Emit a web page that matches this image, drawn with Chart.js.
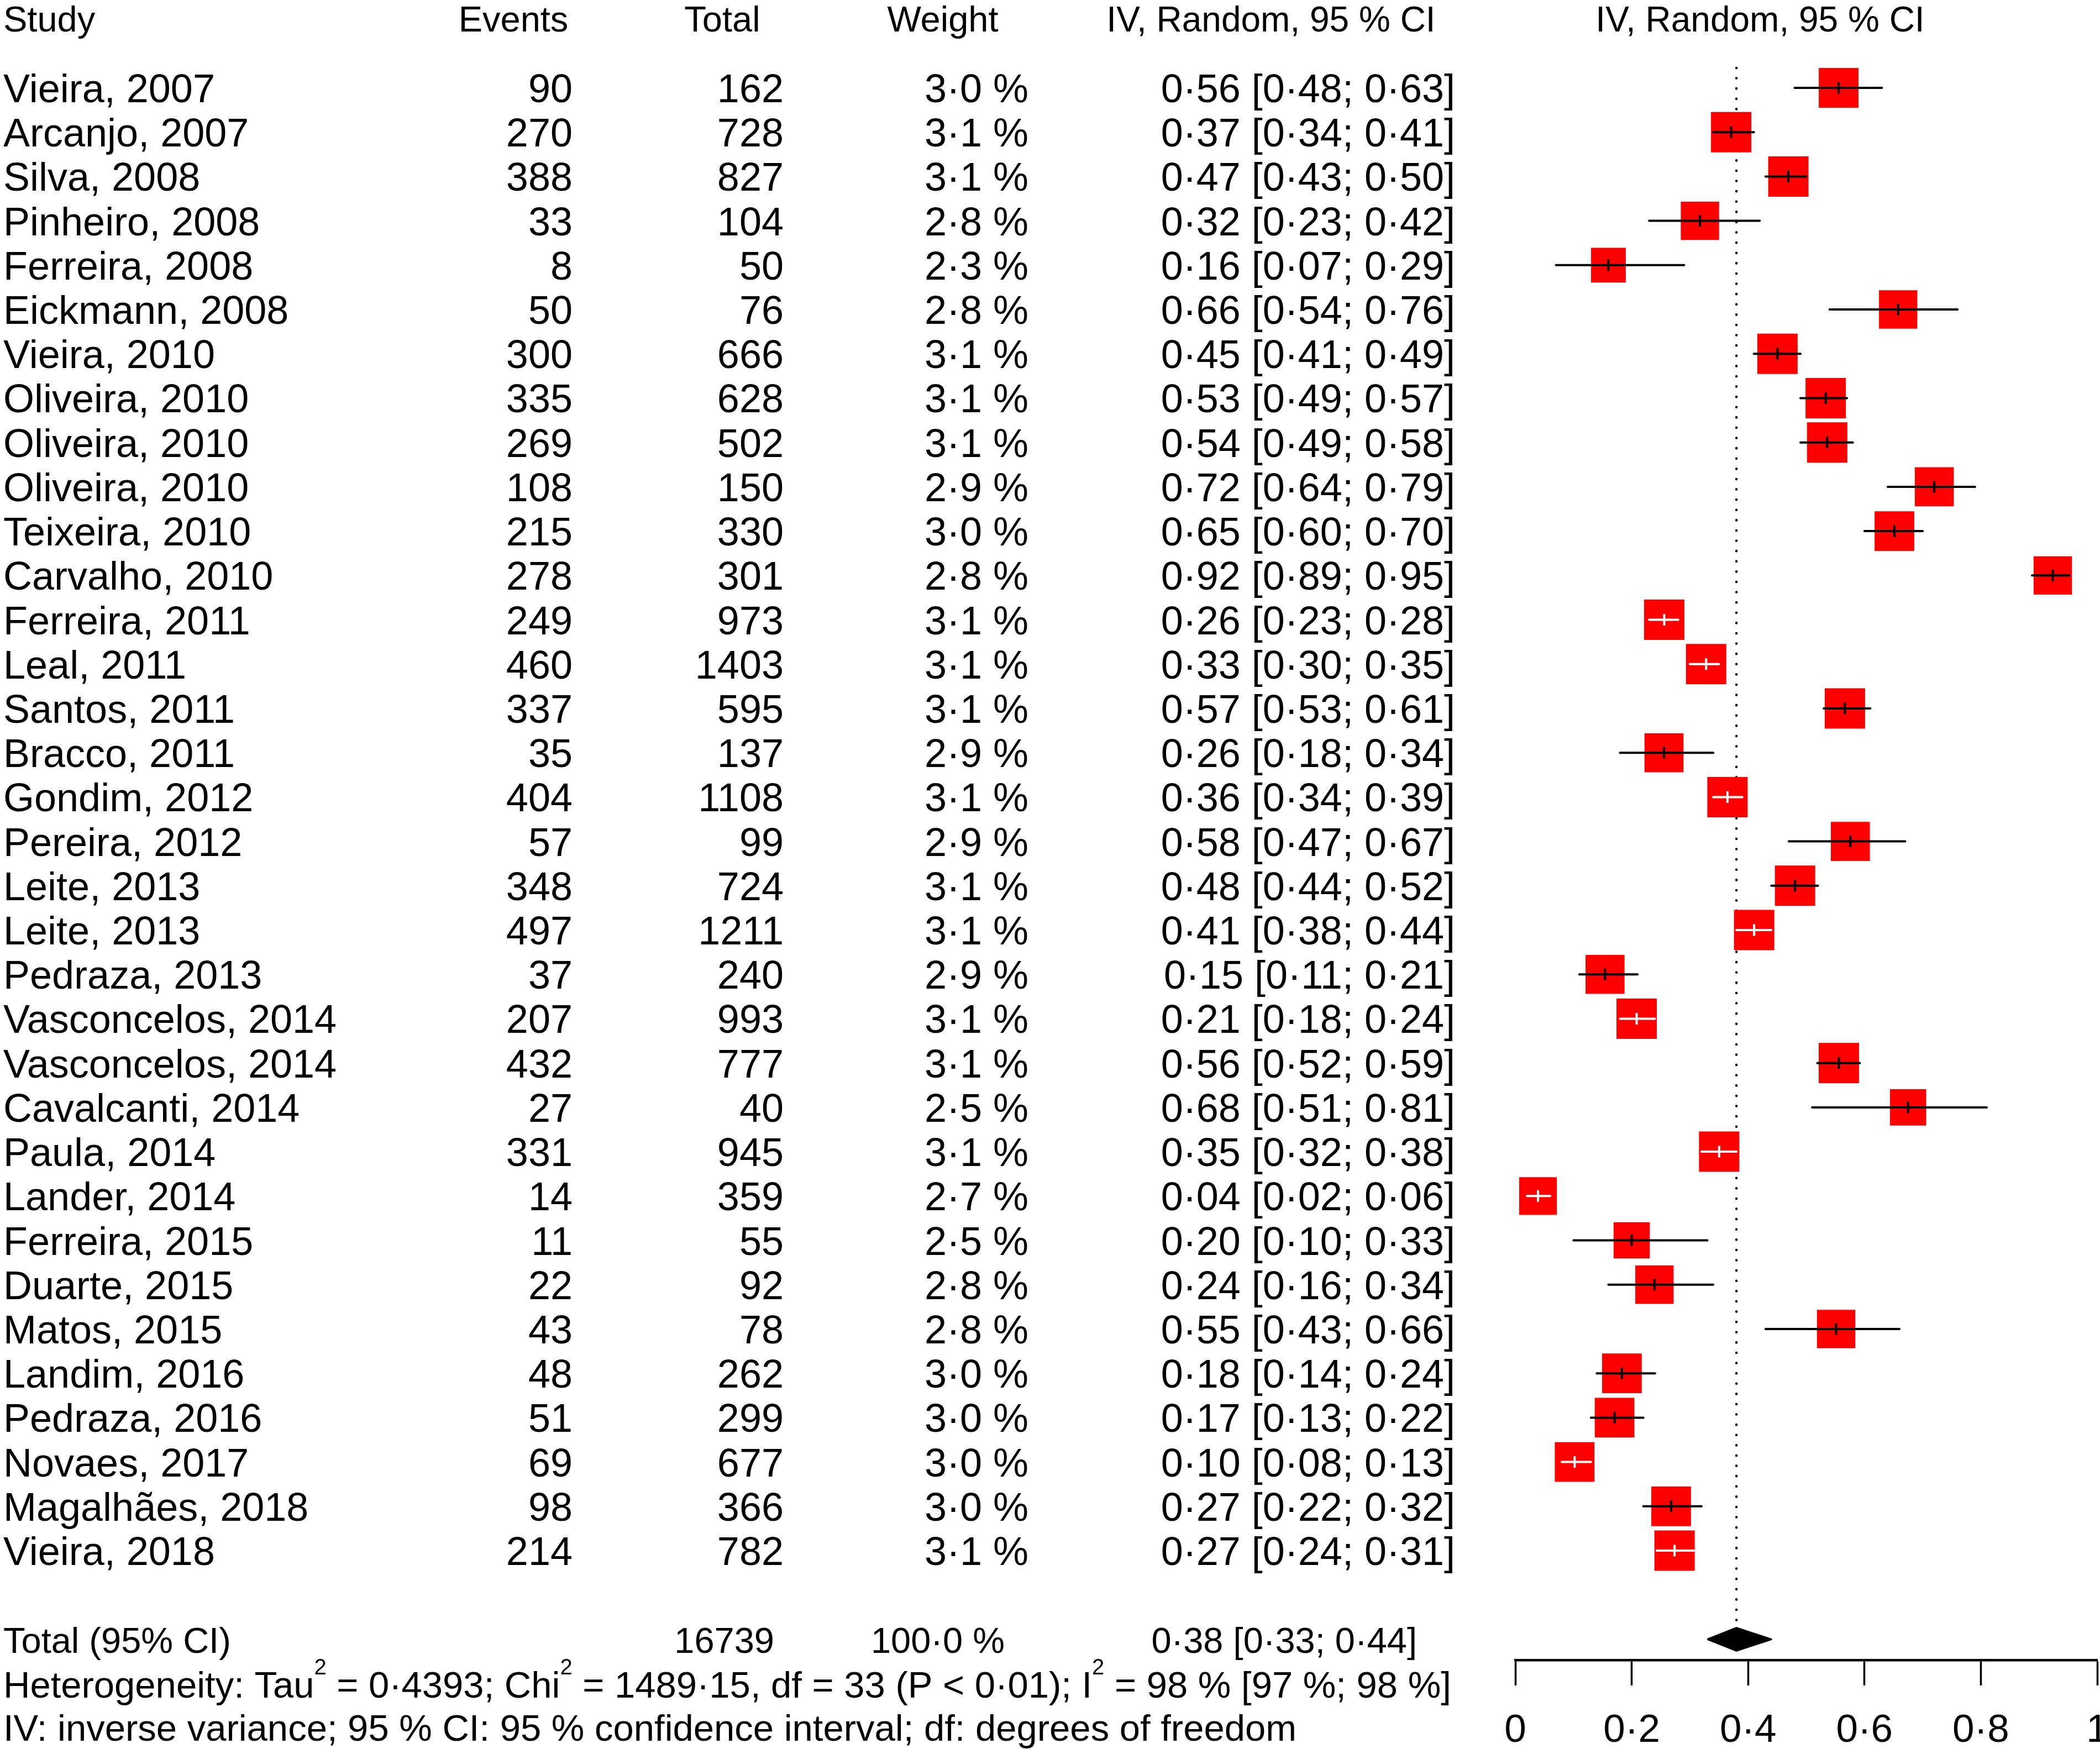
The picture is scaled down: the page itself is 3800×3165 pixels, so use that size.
<!DOCTYPE html>
<html>
<head>
<meta charset="utf-8">
<title>Forest plot</title>
<script src="https://cdn.jsdelivr.net/npm/chart.js@4.4.1/dist/chart.umd.min.js"></script>
<style>
  html, body { margin: 0; padding: 0; background: #fff; }
  canvas { display: block; }
</style>
</head>
<body>
<canvas id="forestChart" width="3800" height="3165"></canvas>
<script>
const studies = [
  "Vieira, 2007", "Arcanjo, 2007", "Silva, 2008", "Pinheiro, 2008", "Ferreira, 2008",
  "Eickmann, 2008", "Vieira, 2010", "Oliveira, 2010", "Oliveira, 2010", "Oliveira, 2010",
  "Teixeira, 2010", "Carvalho, 2010", "Ferreira, 2011", "Leal, 2011", "Santos, 2011",
  "Bracco, 2011", "Gondim, 2012", "Pereira, 2012", "Leite, 2013", "Leite, 2013",
  "Pedraza, 2013", "Vasconcelos, 2014", "Vasconcelos, 2014", "Cavalcanti, 2014", "Paula, 2014",
  "Lander, 2014", "Ferreira, 2015", "Duarte, 2015", "Matos, 2015", "Landim, 2016",
  "Pedraza, 2016", "Novaes, 2017", "Magalhães, 2018", "Vieira, 2018"
];
const events = [90, 270, 388, 33, 8, 50, 300, 335, 269, 108, 215, 278, 249, 460, 337, 35, 404,
  57, 348, 497, 37, 207, 432, 27, 331, 14, 11, 22, 43, 48, 51, 69, 98, 214];
const totals = [162, 728, 827, 104, 50, 76, 666, 628, 502, 150, 330, 301, 973, 1403, 595, 137, 1108,
  99, 724, 1211, 240, 993, 777, 40, 945, 359, 55, 92, 78, 262, 299, 677, 366, 782];
const weights = [3.0, 3.1, 3.1, 2.8, 2.3, 2.8, 3.1, 3.1, 3.1, 2.9, 3.0, 2.8, 3.1, 3.1, 3.1, 2.9, 3.1,
  2.9, 3.1, 3.1, 2.9, 3.1, 3.1, 2.5, 3.1, 2.7, 2.5, 2.8, 2.8, 3.0, 3.0, 3.0, 3.0, 3.1];
const estimates = [0.5556, 0.3709, 0.4692, 0.3173, 0.1600, 0.6579, 0.4505, 0.5334, 0.5359, 0.7200,
  0.6515, 0.9236, 0.2559, 0.3279, 0.5664, 0.2555, 0.3646, 0.5758, 0.4807, 0.4104,
  0.1542, 0.2085, 0.5560, 0.6750, 0.3503, 0.0390, 0.2000, 0.2391, 0.5513, 0.1832,
  0.1706, 0.1019, 0.2678, 0.2737];
const lowerCI = [0.48, 0.34, 0.43, 0.23, 0.07, 0.54, 0.41, 0.49, 0.49, 0.64,
  0.60, 0.888, 0.23, 0.30, 0.53, 0.18, 0.34, 0.47, 0.44, 0.38,
  0.11, 0.18, 0.519, 0.51, 0.32, 0.02, 0.10, 0.16, 0.43, 0.14,
  0.13, 0.08, 0.22, 0.243];
const upperCI = [0.63, 0.41, 0.50, 0.42, 0.29, 0.76, 0.49, 0.57, 0.58, 0.79,
  0.70, 0.952, 0.28, 0.35, 0.61, 0.34, 0.39, 0.67, 0.52, 0.44,
  0.21, 0.24, 0.592, 0.81, 0.38, 0.06, 0.33, 0.34, 0.66, 0.24,
  0.22, 0.13, 0.32, 0.307];

const pooledEst = 0.38;
const pooledLower = 0.33;
const pooledUpper = 0.44;
const pooledWeight = 100;
const xTicks = [0, 0.2, 0.4, 0.6, 0.8, 1];
const headers = ["Study", "Events", "Total", "Weight", "IV, Random, 95 % CI"];
const heterogeneityParts = ["Heterogeneity: Tau", "2", " = 0·4393; Chi", "2",
  " = 1489·15, df = 33 (P < 0·01); I", "2", " = 98 % [97 %; 98 %]"];
const footnote = "IV: inverse variance; 95 % CI: 95 % confidence interval; df: degrees of freedom";

const FONT = '"Liberation Sans", Arial, Helvetica, sans-serif';
const BOX_SIDE = 73;        // px, side of the box for the largest weight
const DIAMOND_HALF = 0.26;  // half height of the summary diamond, in rows
const AXIS_HEIGHT = 161;    // px below the plot area: ticks + labels
const totalRow = studies.length + 1;

const dot = (s) => s.replace(".", "·");
const f2 = (v) => dot((Math.round(v * 100) / 100).toFixed(2));
const ciText = (e, l, u) => `${f2(e)} [${f2(l)}; ${f2(u)}]`;

function boxSide(w) {
  return BOX_SIDE * Math.sqrt(w / Math.max(...weights));
}

// meta draws the CI in white when it fits inside the box
function ciInside(chart, i) {
  const x = chart.scales && chart.scales.x;
  if (!x) return false;
  const half = boxSide(weights[i]) / 2;
  const c = x.getPixelForValue(estimates[i]);
  return x.getPixelForValue(lowerCI[i]) >= c - half && x.getPixelForValue(upperCI[i]) <= c + half;
}
const lineColor = (chart, i) => (ciInside(chart, i) ? "#ffffff" : "#000000");

const datasets = [];

datasets.push({
  type: "line",
  label: "Random effects",
  data: [{ x: pooledEst, y: -0.45 }, { x: pooledEst, y: totalRow - DIAMOND_HALF }],
  borderColor: "#000",
  borderWidth: 4.5,
  borderDash: [0.1, 18.5],
  borderCapStyle: "round",
  pointRadius: 0,
  order: 10
});

datasets.push({
  type: "scatter",
  label: "Boxes",
  data: estimates.map((e, i) => ({ x: e, y: i })),
  pointStyle: "rect",
  pointRadius: (c) => boxSide(weights[c.dataIndex]) / Math.SQRT2,
  backgroundColor: "#ff0000",
  borderWidth: 0,
  order: 5
});

studies.forEach((name, i) => {
  datasets.push({
    type: "line",
    label: name,
    data: [{ x: lowerCI[i], y: i }, { x: upperCI[i], y: i }],
    borderColor: (c) => lineColor(c.chart, i),
    borderWidth: 4,
    borderCapStyle: "round",
    pointRadius: 0,
    order: 3
  });
});

datasets.push({
  type: "scatter",
  label: "Estimates",
  data: estimates.map((e, i) => ({ x: e, y: i })),
  pointStyle: "line",
  rotation: 90,
  pointRadius: 10.5,
  borderWidth: 4,
  borderColor: (c) => lineColor(c.chart, c.dataIndex),
  order: 2
});

datasets.push({
  type: "line",
  label: "Total",
  data: [
    { x: pooledLower, y: totalRow },
    { x: pooledEst, y: totalRow - DIAMOND_HALF },
    { x: pooledUpper, y: totalRow },
    { x: pooledEst, y: totalRow + DIAMOND_HALF },
    { x: pooledLower, y: totalRow }
  ],
  fill: "shape",
  backgroundColor: "#000",
  borderColor: "#000",
  borderWidth: 3,
  borderJoinStyle: "round",
  pointRadius: 0,
  order: 1
});

const tablePlugin = {
  id: "forestTable",
  afterDraw(chart) {
    const { ctx } = chart;
    const y = chart.scales.y;
    const put = (s, x, yy, align) => {
      ctx.textAlign = align;
      ctx.fillText(s, x, yy);
    };
    ctx.save();
    ctx.fillStyle = "#000";
    ctx.textBaseline = "alphabetic";

    ctx.font = `65px ${FONT}`;
    put(headers[0], 6, 57, "left");
    put(headers[1], 929, 57, "center");
    put(headers[2], 1307, 57, "center");
    put(headers[3], 1706, 57, "center");
    ctx.font = `64px ${FONT}`;
    put(headers[4], 2300, 57, "center");
    put(headers[4], 3185, 57, "center");

    ctx.font = `72px ${FONT}`;
    studies.forEach((name, i) => {
      const base = y.getPixelForValue(i) + 26;
      put(name, 6, base, "left");
      put(String(events[i]), 1036, base, "right");
      put(String(totals[i]), 1418, base, "right");
      put(dot(weights[i].toFixed(1)) + " %", 1861, base, "right");
      put(ciText(estimates[i], lowerCI[i], upperCI[i]), 2633, base, "right");
    });

    const tBase = y.getPixelForValue(totalRow) + 25;
    ctx.font = `65px ${FONT}`;
    put("Total (95% CI)", 6, tBase, "left");
    put(String(totals.reduce((a, b) => a + b, 0)), 1401, tBase, "right");
    put(dot(pooledWeight.toFixed(1)) + " %", 1818, tBase, "right");
    put(ciText(pooledEst, pooledLower, pooledUpper), 2564, tBase, "right");

    let hx = 6;
    const hBase = 3072;
    ctx.textAlign = "left";
    heterogeneityParts.forEach((part, k) => {
      const sup = k % 2 === 1;
      ctx.font = `${sup ? 40 : 67}px ${FONT}`;
      ctx.fillText(part, hx, sup ? hBase - 42 : hBase);
      hx += ctx.measureText(part).width;
    });

    ctx.font = `67px ${FONT}`;
    put(footnote, 6, 3150, "left");
    ctx.restore();
  }
};

Chart.defaults.font.family = FONT;

new Chart(document.getElementById("forestChart"), {
  type: "scatter",
  data: { datasets },
  options: {
    responsive: false,
    devicePixelRatio: 1,
    animation: false,
    events: [],
    layout: { autoPadding: false, padding: { left: 2742, right: 5, top: 0, bottom: 0 } },
    plugins: { legend: { display: false }, tooltip: { enabled: false } },
    scales: {
      x: {
        type: "linear",
        position: "bottom",
        min: 0,
        max: 1,
        afterBuildTicks: (scale) => {
          scale.ticks = xTicks.map((v) => ({ value: v }));
        },
        afterFit: (scale) => {
          scale.paddingLeft = 0;
          scale.paddingRight = 0;
          scale.height = AXIS_HEIGHT;
        },
        grid: {
          drawOnChartArea: false,
          drawTicks: true,
          tickLength: 46,
          tickWidth: 3.5,
          tickColor: "#000"
        },
        border: { display: true, color: "#000", width: 4.5 },
        ticks: {
          color: "#000",
          padding: 50,
          maxRotation: 0,
          autoSkip: false,
          font: { size: 71, lineHeight: 0.92 },
          callback: (v) => (Number.isInteger(v) ? String(v) : dot(v.toFixed(1)))
        }
      },
      y: {
        type: "linear",
        display: false,
        reverse: true,
        min: -1.982,
        max: 35.468
      }
    }
  },
  plugins: [tablePlugin]
});
</script>
</body>
</html>
